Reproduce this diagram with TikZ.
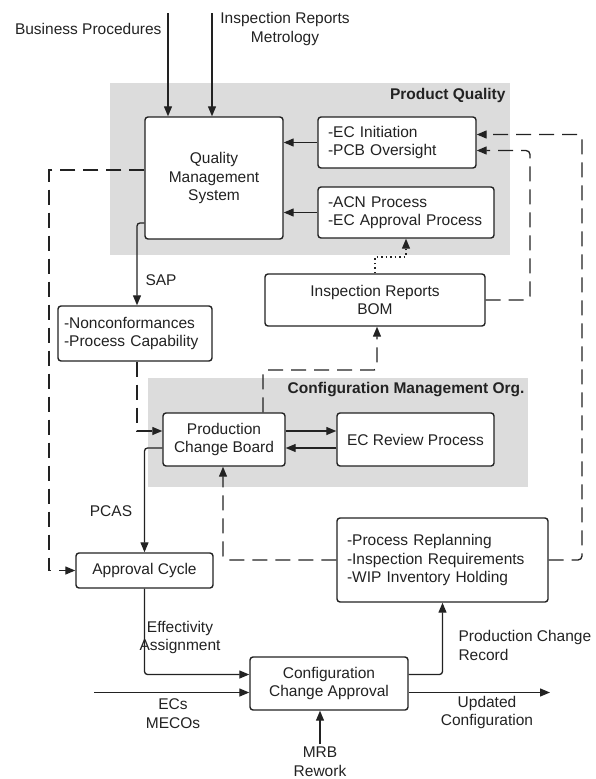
\documentclass[tikz,border=0pt]{standalone}
\usepackage{fontspec}
\setmainfont{Liberation Sans}
\usetikzlibrary{arrows.meta,positioning}
\definecolor{cmgray}{HTML}{DCDCDC}
\definecolor{cmline}{HTML}{222222}

\begin{document}
\begin{tikzpicture}[
  x=1pt, y=-1pt,
  every node/.style={font=\fontsize{15.5}{18.5}\selectfont, text=cmline},
  block/.style={draw=cmline, line width=1.4pt, rounded corners=3pt, fill=white,
                align=center, inner sep=0pt},
  listblock/.style={block, align=left, inner xsep=10pt},
  region/.style={fill=cmgray, draw=none},
  grouptitle/.style={font=\fontsize{15.5}{18.5}\selectfont\bfseries},
  arrow/.style={-{Triangle[length=10pt,width=8pt]}, line width=1.3pt, draw=cmline},
  dasharrow/.style={arrow, dash pattern=on 15pt off 8pt},
  dotarrow/.style={arrow, dash pattern=on 1.5pt off 3pt}
]
\useasboundingbox (0,0) rectangle (596,779);

% shaded groups
\path[region] (110,83) rectangle (510,255);
\path[region] (148,378) rectangle (528,487);
\node[grouptitle, anchor=east] (pqtitle) at (509,95) {Product Quality};
\node[grouptitle, anchor=east] (cmtitle) at (528,390) {Configuration Management Org.};

% boxes
\node[block, minimum width=138, minimum height=122] (qms) at (214,178) {Quality\\Management\\System};
\node[listblock, text width=138, minimum height=51] (ecinit) at (397,142.5) {-EC Initiation\\-PCB Oversight};
\node[listblock, text width=156, minimum height=51] (acn) at (406,212.5) {-ACN Process\\-EC Approval Process};
\node[block, minimum width=220, minimum height=52] (insp) at (375,300) {Inspection Reports\\BOM};
\node[listblock, text width=142, inner xsep=6pt, minimum height=55] (noncon) at (135,333.5) {-Nonconformances\\-Process Capability};
\node[block, minimum width=122, minimum height=53] (pcb) at (224,439.5) {Production\\Change Board};
\node[block, minimum width=157, minimum height=53] (ecrev) at (415.5,439.5) {EC Review Process};
\node[listblock, text width=191, minimum height=84] (replan) at (442.5,560) {-Process Replanning\\-Inspection Requirements\\-WIP Inventory Holding};
\node[block, minimum width=137, minimum height=35] (approval) at (144.5,570.5) {Approval Cycle};
\node[block, minimum width=158, minimum height=53] (cca) at (329,683.5) {Configuration\\Change Approval};

% labels
\node[anchor=east] (bizproc) at (165,29) {Business Procedures};
\node[align=center] (insprep) at (285,29) {Inspection Reports\\Metrology};
\node[anchor=west] (saplbl) at (142,280) {SAP};
\node (pcaslbl) at (111,511) {PCAS};
\node[align=center] (efflbl) at (180,637.5) {Effectivity\\Assignment};
\node[align=center] (ecslbl) at (173,713.5) {ECs\\MECOs};
\node[align=left, anchor=west] (pcrlbl) at (455,645.5) {Production Change\\Record};
\node[align=center] (updlbl) at (487,712.5) {Updated\\Configuration};
\node[align=center] (mrblbl) at (320,761.5) {MRB\\Rework};

% turning points and free ends
\coordinate (bpin) at (168,13);
\coordinate (irin) at (212,13);
\coordinate (qmsdash) at (49,170);
\coordinate (sapturn) at (137,223);
\coordinate (bomturn) at (263,370);
\coordinate (dotturn) at (375,257);
\coordinate (bomright) at (530,300);
\coordinate (farright) at (582,560);
\coordinate (ecsin) at (94,692.5);
\coordinate (updout) at (550,692.5);
\coordinate (mrbin) at (320,744);

\draw[arrow] (bpin) -- (bpin |- qms.north);
\draw[arrow] (irin) -- (irin |- qms.north);
\draw[arrow] (ecinit.west) -- (ecinit.west -| qms.east);
\draw[arrow] (acn.west) -- (acn.west -| qms.east);
\draw[dasharrow] (qmsdash -| qms.west) -- (qmsdash) |- (approval.west);
\draw[arrow, rounded corners=3pt] (sapturn -| qms.west) -- (sapturn) -- (sapturn |- noncon.north);
\draw[dasharrow] (noncon.south -| sapturn) |- ([yshift=8.5pt]pcb.west);
\draw[arrow] ([yshift=8.5pt]pcb.east) -- ([yshift=8.5pt]ecrev.west);
\draw[arrow] ([yshift=-8.5pt]ecrev.west) -- ([yshift=-8.5pt]pcb.east);
\draw[arrow, rounded corners=3pt] ([yshift=-8.5pt]pcb.west) -| (approval.north);
\draw[dasharrow, rounded corners=3pt] (bomturn |- pcb.north) -- (bomturn) -| ([xshift=2pt]insp.south);
\draw[dotarrow] (insp.north) -- (dotturn) -| (acn.south);
\draw[dasharrow, rounded corners=4pt] (insp.east) -- (bomright) |- ([yshift=-8pt]ecinit.east);
\draw[dasharrow, rounded corners=4pt] (replan.east) -- (farright) |- ([yshift=8pt]ecinit.east);
\draw[dasharrow, rounded corners=4pt] (replan.west) -| ([xshift=-1pt]pcb.south);
\draw[arrow, rounded corners=3pt] (approval.south) |- ([yshift=9pt]cca.west);
\draw[arrow] (ecsin) -- (ecsin -| cca.west);
\draw[arrow, rounded corners=3pt] ([yshift=9pt]cca.east) -| (replan.south);
\draw[arrow] (updout -| cca.east) -- (updout);
\draw[arrow] (mrbin) -- (mrbin |- cca.south);
\end{tikzpicture}
\end{document}
